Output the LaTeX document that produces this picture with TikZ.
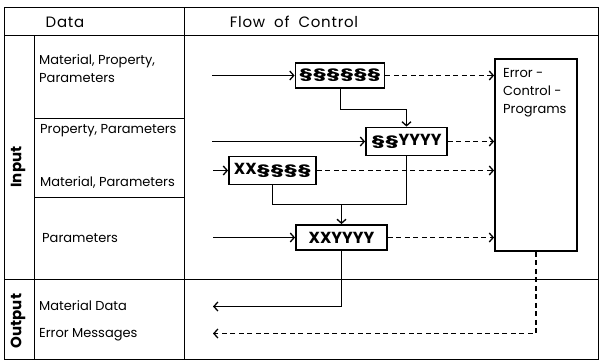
\documentclass[tikz,border=0pt]{standalone}
\usepackage{fontspec}
\setmainfont{Poppins}
\newfontfamily\headfont[LetterSpace=5]{Poppins}
\usepackage{graphicx}
\usetikzlibrary{arrows.meta}
\newcommand\sg{\raisebox{0.5pt}{\scalebox{1.45}[0.85]{§}}}

\begin{document}
\begin{tikzpicture}[
  x=1pt, y=-1pt,
  font=\fontsize{13}{18}\selectfont,
  every node/.style={align=left, inner sep=0pt},
  stage/.style={draw, line width=1.8pt, inner sep=0pt, align=center,
                font=\fontsize{16}{18}\selectfont\bfseries},
  side/.style={rotate=90, font=\fontsize{15}{16}\selectfont\bfseries},
  frame/.style={line width=1pt},
  con/.style={line width=1.5pt},
  arr/.style={con, -{Straight Barb[length=4pt,width=9pt,line width=1.3pt]}},
  darr/.style={arr, dash pattern=on 5pt off 3.5pt}
]
\useasboundingbox (0,0) rectangle (601,363);

% table frame
\draw[frame] (4.5,7.5) rectangle (598.5,359.5);
\draw[frame] (4.5,35.5) -- (598.5,35.5);
\draw[frame] (184.5,7.5) -- (184.5,359.5);
\draw[frame] (34.5,35.5) -- (34.5,359.5);
\draw[frame] (34.5,118.5) -- (184.5,118.5);
\draw[frame] (34.5,197.5) -- (184.5,197.5);
\draw[frame] (4.5,279.5) -- (598.5,279.5);

% headers
\node (hdata) at (65,22) {\headfont\fontsize{15}{16}\selectfont Data};
\node (hflow) at (294,22) {\headfont\fontsize{15}{16}\selectfont Flow\hspace{0.6em}of\hspace{0.6em}Control};
\node[side] (input) at (18,167) {Input};
\node[side] (output) at (18,321) {Output};

% data labels
\node[anchor=west] (d1) at (39,69) {Material, Property,\\Parameters};
\node[anchor=west] (d2) at (40,131) {Property, Parameters};
\node[anchor=west] (d3) at (40,182) {Material, Parameters};
\node[anchor=west] (d4) at (42,238) {Parameters};
\node[anchor=west] (o1) at (39,306) {Material Data};
\node[anchor=west] (o2) at (39,335) {Error Messages};

% stages
\node[stage, minimum width=89pt, minimum height=25pt] (b1) at (340,75.5) {\sg\sg\sg\sg\sg\sg};
\node[stage, minimum width=81pt, minimum height=28pt] (b2) at (406.5,141.5) {\sg\sg YYYY};
\node[stage, minimum width=87pt, minimum height=28pt] (b3) at (272.5,170.5) {XX\sg\sg\sg\sg};
\node[stage, minimum width=91pt, minimum height=25pt] (b4) at (341.5,237.5) {XXYYYY};
\node[draw, line width=1.8pt, minimum width=82pt, minimum height=192pt] (err) at (536,155) {};
\node[anchor=north west, align=left] (errtxt) at (503,68) {Error -\\Control -\\Programs};

% free ends
\coordinate (in1) at (212,75.5);
\coordinate (in2) at (212,141.5);
\coordinate (in3) at (213,170.5);
\coordinate (in4) at (213,237.5);
\coordinate (k1) at (340.5,109.5);
\coordinate (m) at (341.5,204.5);
\coordinate (out1) at (213,306.5);
\coordinate (out2) at (213,333.5);

% inputs
\draw[arr] (in1) -- (b1);
\draw[arr] (in2) -- (b2);
\draw[arr] (in3) -- (b3);
\draw[arr] (in4) -- (b4);

% control flow
\draw[arr] (b1.south -| k1) -- (k1) -| (b2.north);
\draw[con] (b3.south) |- (m) -| (b2.south);
\draw[arr] (m) -- (b4.north);
\draw[arr] (b4.south) |- (out1);

% error paths
\draw[darr] (b1) -- (b1 -| err.west);
\draw[darr] (b2) -- (b2 -| err.west);
\draw[darr] (b3) -- (b3 -| err.west);
\draw[darr] (b4) -- (b4 -| err.west);
\draw[darr] (err.south) |- (out2);
\end{tikzpicture}
\end{document}
